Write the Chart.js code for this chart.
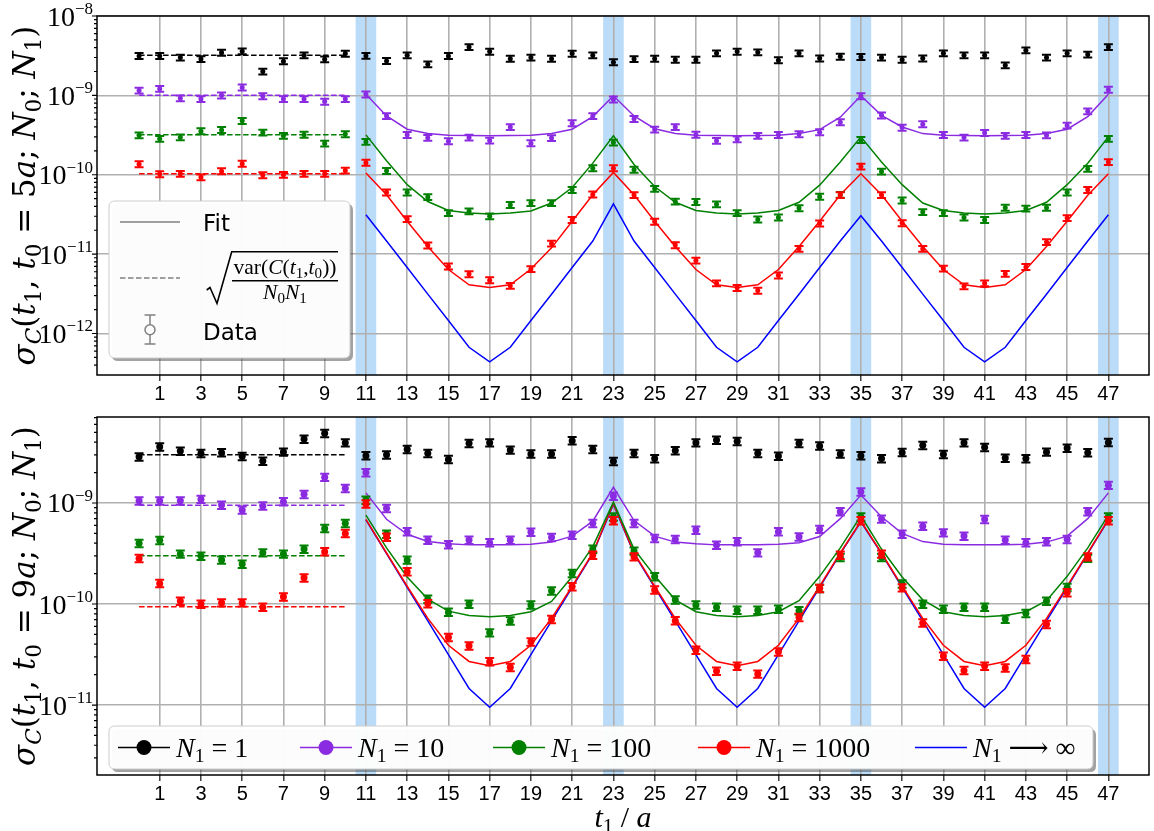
<!DOCTYPE html>
<html><head><meta charset="utf-8">
<script src="https://cdn.jsdelivr.net/npm/chart.js@4.4.0/dist/chart.umd.min.js"></script>
<style>
html,body{margin:0;padding:0;background:#fff;}
#wrap{position:relative;width:1154px;height:831px;overflow:hidden;background:#fff;}
canvas{position:absolute;left:0;}
#c1{top:0;} #c2{top:400px;}
</style></head><body>
<div id="wrap"><canvas id="c1" width="1154" height="410"></canvas><canvas id="c2" width="1154" height="431"></canvas></div>
<script>
// ---------------- DATA ----------------
const T = [0,1,2,3,4,5,6,7,8,9,10,11,12,13,14,15,16,17,18,19,20,21,22,23,24,25,26,27,28,29,30,31,32,33,34,35,36,37,38,39,40,41,42,43,44,45,46,47];
const T_FIT = [11,12,13,14,15,16,17,18,19,20,21,22,23,24,25,26,27,28,29,30,31,32,33,34,35,36,37,38,39,40,41,42,43,44,45,46,47];
const T_PLATEAU = [0, 10];
const BANDS = [11, 23, 35, 47];
const X_TICKS = [1,3,5,7,9,11,13,15,17,19,21,23,25,27,29,31,33,35,37,39,41,43,45,47];
const ERR_REL = 0.085;

// top panel: t0 = 5a
const TOP_N1 = [3.14e-9,3.14e-9,3.0e-9,2.87e-9,3.46e-9,3.6e-9,2.0e-9,2.7e-9,3.2e-9,2.85e-9,3.36e-9,3.16e-9,2.72e-9,3.2e-9,2.47e-9,3.14e-9,4.07e-9,3.56e-9,2.9e-9,3.0e-9,2.9e-9,3.36e-9,3.2e-9,2.62e-9,2.87e-9,2.9e-9,2.82e-9,2.82e-9,3.4e-9,3.56e-9,3.5e-9,2.78e-9,3.4e-9,2.93e-9,3.08e-9,3.05e-9,3.0e-9,2.82e-9,2.93e-9,3.4e-9,3.2e-9,3.2e-9,2.4e-9,3.7e-9,3.0e-9,3.4e-9,3.27e-9,4.07e-9];
const TOP_N10 = [1.15e-9,1.21e-9,0.92e-9,0.9e-9,1.0e-9,1.26e-9,0.98e-9,0.9e-9,0.9e-9,0.835e-9,0.9e-9,1.03e-9,5.5e-10,3.18e-10,2.92e-10,2.65e-10,2.95e-10,2.7e-10,4.0e-10,2.5e-10,2.9e-10,4.47e-10,5.5e-10,8.9e-10,5.06e-10,3.71e-10,4.0e-10,3.2e-10,2.68e-10,2.8e-10,3.1e-10,3.18e-10,3.25e-10,3.44e-10,4.6e-10,0.98e-9,5.6e-10,3.93e-10,4.34e-10,3.18e-10,2.95e-10,3.37e-10,3.1e-10,3.18e-10,3.15e-10,4.17e-10,6.3e-10,1.18e-9];
const TOP_N100 = [3.15e-10,2.84e-10,2.97e-10,3.54e-10,3.67e-10,4.78e-10,3.4e-10,3.1e-10,3.2e-10,2.48e-10,3.25e-10,2.6e-10,1.12e-10,6.0e-11,5.25e-11,3.3e-11,3.47e-11,3.0e-11,4.17e-11,4.4e-11,4.4e-11,6.45e-11,1.21e-10,2.55e-10,1.16e-10,6.67e-11,4.6e-11,4.55e-11,4.25e-11,3.3e-11,2.74e-11,2.9e-11,3.8e-11,5.3e-11,5.6e-11,2.75e-10,1.1e-10,4.75e-11,3.39e-11,3.3e-11,2.9e-11,2.7e-11,3.85e-11,3.75e-11,3.85e-11,6.0e-11,1.19e-10,2.84e-10];
const TOP_N1000 = [1.36e-10,1.02e-10,1.03e-10,0.93e-10,1.11e-10,1.38e-10,0.99e-10,1.0e-10,1.03e-10,1.03e-10,1.13e-10,1.42e-10,6.0e-11,2.77e-11,1.29e-11,7.0e-12,5.6e-12,4.7e-12,4.0e-12,6.5e-12,1.36e-11,2.7e-11,5.65e-11,1.21e-10,5.55e-11,2.57e-11,1.3e-11,8.3e-12,4.3e-12,3.76e-12,3.47e-12,5.4e-12,1.17e-11,2.44e-11,5.55e-11,1.27e-10,5.55e-11,2.46e-11,1.17e-11,6.6e-12,3.94e-12,4.3e-12,5.65e-12,6.9e-12,1.42e-11,2.85e-11,6.45e-11,1.45e-10];
const TOP_PLATEAU = [3.2e-9, 1.0e-9, 3.2e-10, 1.03e-10];
const TOP_FIT_N10 = [1.03e-9,5.5e-10,3.75e-10,3.3e-10,3.15e-10,3.12e-10,3.1e-10,3.12e-10,3.15e-10,3.3e-10,3.75e-10,5.4e-10,9.9e-10,5.5e-10,3.8e-10,3.3e-10,3.15e-10,3.12e-10,3.1e-10,3.12e-10,3.15e-10,3.3e-10,3.7e-10,5.3e-10,9.9e-10,5.6e-10,4.0e-10,3.3e-10,3.15e-10,3.12e-10,3.1e-10,3.12e-10,3.15e-10,3.3e-10,3.75e-10,5.4e-10,1.03e-9];
const TOP_FIT_N100 = [3.18e-10,1.5e-10,7.5e-11,4.6e-11,3.55e-11,3.3e-11,3.2e-11,3.3e-11,3.5e-11,4.4e-11,6.9e-11,1.4e-10,3.1e-10,1.35e-10,7.1e-11,4.5e-11,3.55e-11,3.3e-11,3.2e-11,3.3e-11,3.55e-11,4.5e-11,7.4e-11,1.45e-10,3.0e-10,1.45e-10,7.5e-11,4.4e-11,3.55e-11,3.3e-11,3.2e-11,3.3e-11,3.55e-11,4.5e-11,7.5e-11,1.4e-10,3.0e-10];
const TOP_FIT_N1000 = [1.05e-10,5.6e-11,2.6e-11,1.25e-11,6.4e-12,4.1e-12,3.8e-12,4.1e-12,6.5e-12,1.2e-11,2.6e-11,5.6e-11,1.07e-10,5.6e-11,2.6e-11,1.25e-11,6.4e-12,4.1e-12,3.8e-12,4.1e-12,6.4e-12,1.25e-11,2.6e-11,5.6e-11,1.03e-10,5.6e-11,2.6e-11,1.25e-11,6.4e-12,4.1e-12,3.8e-12,4.1e-12,6.4e-12,1.25e-11,2.6e-11,5.5e-11,1.03e-10];
const TOP_FIT_INF = [3.14e-11,1.46e-11,6.8e-12,3.13e-12,1.46e-12,6.7e-13,4.4e-13,6.7e-13,1.46e-12,3.13e-12,6.8e-12,1.46e-11,4.3e-11,1.46e-11,6.8e-12,3.13e-12,1.46e-12,6.7e-13,4.4e-13,6.7e-13,1.46e-12,3.13e-12,6.8e-12,1.46e-11,3.05e-11,1.46e-11,6.8e-12,3.13e-12,1.46e-12,6.7e-13,4.4e-13,6.7e-13,1.46e-12,3.13e-12,6.8e-12,1.46e-11,3.14e-11];

// bottom panel: t0 = 9a
const BOT_N1 = [2.87e-9,3.6e-9,3.27e-9,3.1e-9,3.15e-9,2.9e-9,2.6e-9,3.2e-9,4.3e-9,4.9e-9,3.95e-9,2.94e-9,3.0e-9,3.4e-9,3.1e-9,2.7e-9,3.9e-9,3.95e-9,3.35e-9,3.06e-9,3.06e-9,4.14e-9,3.4e-9,2.59e-9,3.1e-9,2.75e-9,3.3e-9,3.95e-9,4.2e-9,4.08e-9,3.1e-9,2.92e-9,3.9e-9,3.67e-9,3.06e-9,2.94e-9,2.75e-9,3.17e-9,3.73e-9,3.03e-9,3.95e-9,3.56e-9,2.79e-9,2.75e-9,3.2e-9,3.5e-9,3.15e-9,3.98e-9];
const BOT_N10 = [1.05e-9,1.05e-9,1.05e-9,1.09e-9,0.955e-9,0.853e-9,0.935e-9,1.03e-9,1.22e-9,1.8e-9,1.4e-9,2.0e-9,0.886e-9,5.2e-10,4.3e-10,3.87e-10,4.3e-10,4.05e-10,4.3e-10,5.16e-10,4.57e-10,4.82e-10,6.3e-10,1.17e-9,6.3e-10,4.47e-10,4.37e-10,5.4e-10,3.84e-10,4.14e-10,3.22e-10,5.2e-10,4.63e-10,5.5e-10,8.2e-10,1.29e-9,6.95e-10,4.93e-10,5.9e-10,5.08e-10,4.7e-10,6.9e-10,4.3e-10,4.05e-10,4.14e-10,4.37e-10,8.2e-10,1.5e-9];
const BOT_N100 = [3.99e-10,4.27e-10,3.13e-10,2.98e-10,2.73e-10,2.49e-10,3.22e-10,3.13e-10,3.5e-10,5.6e-10,6.3e-10,1.07e-9,4.93e-10,2.73e-10,1.12e-10,8.3e-11,1.0e-10,5.2e-11,6.8e-11,9.8e-11,1.35e-10,2.01e-10,3.5e-10,7.3e-10,3.35e-10,1.87e-10,1.1e-10,9.8e-11,9.3e-11,8.7e-11,8.7e-11,8.9e-11,8.6e-11,1.43e-10,2.9e-10,7.3e-10,2.9e-10,1.58e-10,1.0e-10,8.9e-11,9.3e-11,9.3e-11,7.1e-11,8.1e-11,1.07e-10,1.46e-10,2.84e-10,7.3e-10];
const BOT_N1000 = [2.83e-10,1.6e-10,1.07e-10,1.0e-10,1.03e-10,1.03e-10,0.93e-10,1.18e-10,1.82e-10,3.3e-10,5.0e-10,0.98e-9,4.6e-10,2.09e-10,1.01e-10,4.68e-11,3.86e-11,2.69e-11,2.36e-11,4.23e-11,7.05e-11,1.49e-10,3.05e-10,6.68e-10,2.94e-10,1.38e-10,6.84e-11,3.5e-11,2.17e-11,2.43e-11,2.03e-11,3.37e-11,7.4e-11,1.43e-10,3.05e-10,6.7e-10,3.13e-10,1.45e-10,6.5e-11,3.05e-11,2.2e-11,2.43e-11,2.33e-11,2.83e-11,6.3e-11,1.3e-10,2.94e-10,6.68e-10];
const BOT_PLATEAU = [3.0e-9, 0.95e-9, 3.0e-10, 0.94e-10];
const BOT_FIT_N10 = [1.26e-9,6.9e-10,4.9e-10,4.15e-10,3.95e-10,3.85e-10,3.85e-10,3.85e-10,3.9e-10,4.1e-10,4.7e-10,6.6e-10,1.43e-9,6.7e-10,4.7e-10,4.1e-10,3.95e-10,3.85e-10,3.85e-10,3.85e-10,3.9e-10,4.05e-10,4.65e-10,7.0e-10,1.2e-9,7.3e-10,5.0e-10,4.15e-10,3.9e-10,3.85e-10,3.85e-10,3.85e-10,3.9e-10,4.1e-10,4.7e-10,7.0e-10,1.26e-9];
const BOT_FIT_N100 = [7.6e-10,3.6e-10,1.85e-10,1.12e-10,8.5e-11,7.7e-11,7.5e-11,7.7e-11,8.4e-11,1.06e-10,1.87e-10,3.7e-10,1.02e-9,3.5e-10,1.9e-10,1.1e-10,8.4e-11,7.7e-11,7.5e-11,7.7e-11,8.4e-11,1.08e-10,1.88e-10,3.6e-10,7.45e-10,3.5e-10,1.85e-10,1.1e-10,8.4e-11,7.7e-11,7.5e-11,7.7e-11,8.4e-11,1.08e-10,1.88e-10,3.6e-10,7.6e-10];
const BOT_FIT_N1000 = [6.9e-10,3.2e-10,1.5e-10,7.2e-11,3.9e-11,2.7e-11,2.45e-11,2.7e-11,3.9e-11,7.2e-11,1.5e-10,3.2e-10,9.9e-10,3.2e-10,1.5e-10,7.2e-11,3.9e-11,2.7e-11,2.45e-11,2.7e-11,3.9e-11,7.2e-11,1.5e-10,3.2e-10,6.6e-10,3.2e-10,1.5e-10,7.2e-11,3.9e-11,2.7e-11,2.45e-11,2.7e-11,3.9e-11,7.2e-11,1.5e-10,3.2e-10,6.9e-10];
const BOT_FIT_INF = [6.8e-10,3.15e-10,1.46e-10,6.8e-11,3.15e-11,1.46e-11,9.5e-12,1.46e-11,3.15e-11,6.8e-11,1.46e-10,3.15e-10,9.7e-10,3.15e-10,1.46e-10,6.8e-11,3.15e-11,1.46e-11,9.5e-12,1.46e-11,3.15e-11,6.8e-11,1.46e-10,3.15e-10,6.5e-10,3.15e-10,1.46e-10,6.8e-11,3.15e-11,1.46e-11,9.5e-12,1.46e-11,3.15e-11,6.8e-11,1.46e-10,3.15e-10,6.8e-10];

const TOP_DECADES = [1e-12, 1e-11, 1e-10, 1e-9, 1e-8];
const BOT_DECADES = [1e-11, 1e-10, 1e-9];
const LEGEND_LABELS = ['1', '10', '100', '1000'];

// ---------------- STYLE ----------------
const COLORS = ['#000000', '#8a2be2', '#008000', '#ff0000', '#0000ff'];
const MATH = '"Liberation Serif","DejaVu Serif",serif';
const TITLEMATH = '"DejaVu Serif","Liberation Serif",serif';
const SANS = '"DejaVu Sans","Liberation Sans",sans-serif';
const TICKSANS = '"Liberation Sans","DejaVu Sans",sans-serif';
const BAND_COLOR = '#bbdcf9';
const GRID = '#b0b0b0';
const X_MIN = -2.04, X_MAX = 48.97;

function partFont(kind, size, fam) {
  const sub = kind[0] === 's';
  const it = kind[kind.length - 1] === 'i';
  return (it ? 'italic ' : '') + (sub ? size * 0.7 : size).toFixed(2) + 'px ' + (fam || MATH);
}
function richWidth(ctx, parts, size, fam) {
  let w = 0;
  for (const [t, k] of parts) { ctx.font = partFont(k, size, fam); w += ctx.measureText(t).width; }
  return w;
}
function drawRich(ctx, parts, x, y, size, align, fam) {
  const w = richWidth(ctx, parts, size, fam);
  let cx = align === 'center' ? x - w / 2 : (align === 'right' ? x - w : x);
  ctx.textAlign = 'left'; ctx.textBaseline = 'alphabetic';
  for (const [t, k] of parts) {
    ctx.font = partFont(k, size, fam);
    ctx.fillText(t, cx, k[0] === 's' ? y + size * 0.2 : y);
    cx += ctx.measureText(t).width;
  }
  return w;
}
function fitSize(ctx, parts, target, guess, fam) { return guess * target / richWidth(ctx, parts, guess, fam); }
function roundRect(ctx, x, y, w, h, r) {
  ctx.beginPath();
  ctx.moveTo(x + r, y); ctx.lineTo(x + w - r, y); ctx.quadraticCurveTo(x + w, y, x + w, y + r);
  ctx.lineTo(x + w, y + h - r); ctx.quadraticCurveTo(x + w, y + h, x + w - r, y + h);
  ctx.lineTo(x + r, y + h); ctx.quadraticCurveTo(x, y + h, x, y + h - r);
  ctx.lineTo(x, y + r); ctx.quadraticCurveTo(x, y, x + r, y); ctx.closePath();
}
function legendBox(ctx, x, y, w, h) {
  ctx.save();
  roundRect(ctx, x + 3, y + 3, w, h, 6); ctx.fillStyle = 'rgba(70,70,70,0.5)'; ctx.fill();
  roundRect(ctx, x, y, w, h, 6); ctx.fillStyle = 'rgba(255,255,255,0.97)'; ctx.fill();
  ctx.strokeStyle = '#cccccc'; ctx.lineWidth = 1; ctx.stroke();
  ctx.restore();
}

function yTitleParts(t0) {
  return [['σ','i'],['C','si'],['(','r'],['t','i'],['1','sr'],[', ','r'],['t','i'],['0','sr'],[' = ' + t0,'r'],['a','i'],['; ','r'],['N','i'],['0','sr'],['; ','r'],['N','i'],['1','sr'],[')','r']];
}

function drawTopLegend(ctx) {
  legendBox(ctx, 109, 201, 241, 157);
  ctx.save();
  ctx.strokeStyle = '#808080'; ctx.lineWidth = 1.5;
  ctx.beginPath(); ctx.moveTo(120, 222); ctx.lineTo(180, 222); ctx.stroke();
  ctx.setLineDash([5.5, 2.5]);
  ctx.beginPath(); ctx.moveTo(120, 278); ctx.lineTo(180, 278); ctx.stroke();
  ctx.setLineDash([]);
  ctx.beginPath(); ctx.moveTo(150, 315); ctx.lineTo(150, 324.7); ctx.moveTo(150, 334.7); ctx.lineTo(150, 344);
  ctx.moveTo(144.5, 315); ctx.lineTo(155.5, 315); ctx.moveTo(144.5, 344); ctx.lineTo(155.5, 344); ctx.stroke();
  ctx.beginPath(); ctx.arc(150, 329.7, 5, 0, Math.PI * 2); ctx.stroke();
  ctx.fillStyle = '#000'; ctx.font = '23px ' + SANS; ctx.textBaseline = 'alphabetic'; ctx.textAlign = 'left';
  ctx.fillText('Fit', 203, 230.5);
  ctx.fillText('Data', 203, 339.5);
  ctx.strokeStyle = '#000'; ctx.lineWidth = 1.6;
  ctx.beginPath(); ctx.moveTo(206.7, 290); ctx.lineTo(210, 287.5); ctx.lineTo(217, 303.5); ctx.lineTo(231.7, 251.7); ctx.lineTo(338, 251.7); ctx.stroke();
  ctx.lineWidth = 1.4;
  ctx.beginPath(); ctx.moveTo(232, 280.7); ctx.lineTo(338, 280.7); ctx.stroke();
  const num = [['var(','r'],['C','i'],['(','r'],['t','i'],['1','sr'],[',','r'],['t','i'],['0','sr'],['))','r']];
  const den = [['N','i'],['0','sr'],['N','i'],['1','sr']];
  const sn = fitSize(ctx, num, 103, 18);
  drawRich(ctx, num, 285, 274, sn, 'center');
  drawRich(ctx, den, 285, 299, sn, 'center');
  ctx.restore();
}

function drawBottomLegend(ctx) {
  legendBox(ctx, 109, 326, 984, 43);
  const starts = [118, 300, 493, 698, 915];
  const cy = 347.5;
  ctx.save();
  for (let i = 0; i < 5; i++) {
    const s = starts[i];
    ctx.strokeStyle = COLORS[i]; ctx.lineWidth = 1.5;
    ctx.beginPath(); ctx.moveTo(s, cy); ctx.lineTo(s + 52, cy); ctx.stroke();
    if (i < 4) {
      ctx.fillStyle = COLORS[i];
      ctx.beginPath(); ctx.arc(s + 26, cy, 7.5, 0, Math.PI * 2); ctx.fill();
    }
    ctx.fillStyle = '#000';
    const parts = i < 4 ? [['N','i'],['1','sr'],[' = ' + LEGEND_LABELS[i],'r']] : [['N','i'],['1','sr'],[' ⟶ ∞','r']];
    drawRich(ctx, parts, s + 58, cy + 9, 28, 'left');
  }
  ctx.restore();
}

function makePlugin(spec) {
  return {
    id: 'decor',
    beforeDraw(chart) {
      const { ctx, chartArea: a, scales: { x } } = chart;
      ctx.save();
      ctx.fillStyle = BAND_COLOR;
      for (const b of BANDS) {
        const x0 = x.getPixelForValue(b - 0.5), x1 = x.getPixelForValue(b + 0.5);
        ctx.fillRect(x0, a.top, x1 - x0, a.bottom - a.top);
      }
      ctx.restore();
    },
    afterDatasetDraw(chart, args) {
      const ds = chart.data.datasets[args.index];
      if (!ds.errorBars) return;
      const { ctx, chartArea: a, scales: { x, y } } = chart;
      ctx.save();
      ctx.beginPath(); ctx.rect(a.left, a.top, a.width, a.height); ctx.clip();
      ctx.strokeStyle = ds.borderColor; ctx.lineWidth = 2;
      ctx.beginPath();
      for (const p of ds.data) {
        const px = x.getPixelForValue(p.x);
        const y1 = y.getPixelForValue(p.y * (1 + ERR_REL)), y2 = y.getPixelForValue(p.y * (1 - ERR_REL));
        ctx.moveTo(px, y1); ctx.lineTo(px, y2);
        ctx.moveTo(px - 4.5, y1); ctx.lineTo(px + 4.5, y1);
        ctx.moveTo(px - 4.5, y2); ctx.lineTo(px + 4.5, y2);
      }
      ctx.stroke();
      ctx.restore();
    },
    afterDraw(chart) {
      const { ctx, chartArea: a, scales: { y } } = chart;
      ctx.save();
      ctx.strokeStyle = '#000'; ctx.lineWidth = 1.5;
      ctx.strokeRect(a.left, a.top, a.right - a.left, a.bottom - a.top);
      ctx.lineWidth = 1.2;
      const e0 = Math.floor(Math.log10(spec.yMin)), e1 = Math.ceil(Math.log10(spec.yMax));
      ctx.beginPath();
      for (let e = e0; e <= e1; e++) {
        for (let m = 1; m <= 9; m++) {
          const v = m * Math.pow(10, e);
          if (v < spec.yMin * 0.999 || v > spec.yMax * 1.001) continue;
          const py = y.getPixelForValue(v);
          ctx.moveTo(a.left - (m === 1 ? 5 : 3), py); ctx.lineTo(a.left, py);
        }
      }
      ctx.stroke();
      ctx.fillStyle = '#000'; ctx.textBaseline = 'alphabetic'; ctx.textAlign = 'left';
      for (const d of spec.decades) {
        const py = y.getPixelForValue(d);
        const ex = '\u2212' + Math.round(-Math.log10(d));
        ctx.font = '17px ' + MATH; const w2 = ctx.measureText(ex).width;
        ctx.font = '28px ' + MATH; const w1 = ctx.measureText('10').width;
        const xs = 93 - w2;
        ctx.fillText('10', xs - w1, py + 9.5);
        ctx.font = '17px ' + MATH; ctx.fillText(ex, xs, py - 2);
      }
      const parts = yTitleParts(spec.t0);
      const sz = fitSize(ctx, parts, 340, 30, TITLEMATH);
      ctx.translate(35, (a.top + a.bottom) / 2);
      ctx.rotate(-Math.PI / 2);
      drawRich(ctx, parts, 0, 0, sz, 'center', TITLEMATH);
      ctx.restore();
      if (spec.legend === 'top') drawTopLegend(ctx);
      else {
        drawBottomLegend(ctx);
        ctx.save(); ctx.fillStyle = '#000';
        const xp = [['t','i'],['1','sr'],[' / ','r'],['a','i']];
        const s2 = fitSize(ctx, xp, 57, 26);
        drawRich(ctx, xp, (a.left + a.right) / 2, 427, s2, 'center');
        ctx.restore();
      }
    }
  };
}

function buildChart(id, spec) {
  const datasets = [];
  const vals = spec.data;
  for (let i = 0; i < 4; i++) {
    datasets.push({
      data: T.map((t, j) => ({ x: t, y: vals[i][j] })), showLine: false,
      pointRadius: spec.markerR, pointBackgroundColor: COLORS[i], pointBorderWidth: 0,
      borderColor: COLORS[i], errorBars: true, order: 5 - i
    });
  }
  for (let i = 0; i < 4; i++) {
    datasets.push({
      data: T_PLATEAU.map(t => ({ x: t, y: spec.plateau[i] })), borderColor: COLORS[i],
      borderWidth: 1.5, borderDash: [5.5, 2.5], pointRadius: 0, order: 20
    });
  }
  for (let i = 0; i < 4; i++) {
    datasets.push({
      data: T_FIT.map((t, j) => ({ x: t, y: spec.fits[i][j] })), borderColor: COLORS[i + 1],
      borderWidth: 1.5, pointRadius: 0, tension: 0, order: 20
    });
  }
  return new Chart(document.getElementById(id), {
    type: 'line',
    data: { datasets },
    options: {
      responsive: false, animation: false, devicePixelRatio: 1, events: [],
      layout: { padding: { left: 0, right: 5, top: spec.padTop, bottom: 0 } },
      plugins: { legend: { display: false }, tooltip: { enabled: false } },
      scales: {
        x: {
          type: 'linear', min: X_MIN, max: X_MAX,
          afterFit(s) { s.height = spec.xAxisH; },
          afterBuildTicks(s) { s.ticks = X_TICKS.map(v => ({ value: v })); },
          ticks: { autoSkip: false, maxRotation: 0, minRotation: 0, padding: 1, color: '#000',
                   font: { family: TICKSANS, size: 20 }, callback: v => String(v) },
          grid: { color: GRID, lineWidth: 1.6, tickLength: 6, tickColor: '#222', tickWidth: 1.3 },
          border: { display: false }
        },
        y: {
          type: 'logarithmic', min: spec.yMin, max: spec.yMax, position: 'left',
          afterFit(s) { s.width = 97; },
          afterBuildTicks(s) { s.ticks = spec.decades.map(v => ({ value: v })); },
          ticks: { display: false },
          grid: { color: GRID, lineWidth: 1.6, drawTicks: false },
          border: { display: false }
        }
      }
    },
    plugins: [makePlugin(spec)]
  });
}

buildChart('c1', {
  data: [TOP_N1, TOP_N10, TOP_N100, TOP_N1000], plateau: TOP_PLATEAU,
  fits: [TOP_FIT_N10, TOP_FIT_N100, TOP_FIT_N1000, TOP_FIT_INF],
  yMin: 3.05e-13, yMax: 1e-8, decades: TOP_DECADES, padTop: 16, xAxisH: 35,
  markerR: 2.5, t0: '5', legend: 'top'
});
buildChart('c2', {
  data: [BOT_N1, BOT_N10, BOT_N100, BOT_N1000], plateau: BOT_PLATEAU,
  fits: [BOT_FIT_N10, BOT_FIT_N100, BOT_FIT_N1000, BOT_FIT_INF],
  yMin: 2.03e-12, yMax: 7.1e-9, decades: BOT_DECADES, padTop: 17, xAxisH: 56,
  markerR: 3.5, t0: '9', legend: 'bottom'
});
</script></body></html>
